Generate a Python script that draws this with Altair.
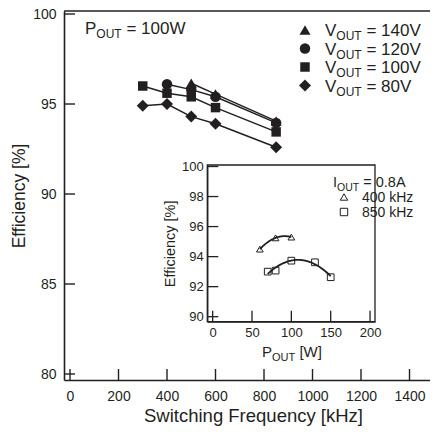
import altair as alt
import pandas as pd

# ---------------- data ----------------
series_names = ["140V", "120V", "100V", "80V"]
series_shapes = ["triangle-up", "circle", "square", "diamond"]
series_sizes = [121, 110, 90, 144]

freq_140 = [500, 600, 850]
eff_140 = [96.15, 95.55, 94.05]
freq_120 = [400, 500, 600, 850]
eff_120 = [96.1, 95.8, 95.4, 93.95]
freq_100 = [300, 400, 500, 600, 850]
eff_100 = [96.0, 95.6, 95.4, 94.8, 93.45]
freq_80 = [300, 400, 500, 600, 850]
eff_80 = [94.9, 95.0, 94.3, 93.9, 92.6]

inset_names = ["400 kHz", "850 kHz"]
inset_shapes = ["triangle-up", "square"]
pout_400 = [60, 80, 100]
eff_400 = [94.5, 95.25, 95.3]
pout_850 = [70, 80, 100, 130, 150]
eff_850 = [93.0, 93.07, 93.73, 93.62, 92.63]

main_xticks = [0, 200, 400, 600, 800, 1000, 1200, 1400]
main_yticks = [80, 85, 90, 95, 100]
inset_xticks = [0, 50, 100, 150, 200]
inset_yticks = [90, 92, 94, 96, 98, 100]

MAIN_X_DOMAIN = [-24.74, 1484.5]
MAIN_Y_DOMAIN = [79.667, 100.167]
INSET_X_DOMAIN = [-6.8, 206.3]
INSET_Y_DOMAIN = [89.667, 100.1]

# ---------------- layout / style ----------------
W, H = 366, 369
INK = "#231f20"
FONT = "Liberation Sans"
INSET_X_RANGE = [143.3, 311.0]
INSET_Y_RANGE = [310.7, 154.0]

ONE = pd.DataFrame({"a": [0]})

GLYPH = {'P': 667, 'V': 667, 'I': 278, 'O': 778, 'U': 722, 'T': 611, ' ': 278,
         '=': 584, '.': 278, 'A': 667, 'W': 944, '[': 278, ']': 278, 'k': 500,
         'H': 722, 'z': 500}


def tw(s, size):
    return sum(GLYPH.get(c, 556) for c in s) * size / 1000.0


def txt(s, x, y, size, align="left", baseline="alphabetic"):
    return alt.Chart(ONE).mark_text(
        text=s, fontSize=size, font=FONT, color=INK, align=align, baseline=baseline
    ).encode(x=alt.value(x), y=alt.value(y))


def subtext(x, base, main, sub, rest, size, subsize, drop, gap=True):
    x1 = x + tw(main, size)
    x2 = x1 + tw(sub, subsize) + (tw(" ", size) if gap else 0)
    return [txt(main, x, base, size), txt(sub, x1, base + drop, subsize),
            txt(rest, x2, base, size)]


# ---------------- main plot ----------------
XS = alt.Scale(domain=MAIN_X_DOMAIN, nice=False, zero=False)
YS = alt.Scale(domain=MAIN_Y_DOMAIN, nice=False, zero=False)
XAX = alt.Axis(values=main_xticks, format="d", ticks=False, grid=False, domain=True,
               domainColor=INK, domainWidth=1.6, labelFont=FONT, labelFontSize=14,
               labelColor=INK, labelPadding=9, labelOverlap=False,
               title="Switching Frequency [kHz]", titleFont=FONT, titleFontSize=18.5,
               titleFontWeight="normal", titleColor=INK, titlePadding=3, titleX=189)
YAX = alt.Axis(values=main_yticks, format="d", ticks=False, grid=False, domain=True,
               domainColor=INK, domainWidth=1.6, labelFont=FONT, labelFontSize=14,
               labelColor=INK, labelPadding=8, labelOverlap=False,
               title="Efficiency [%]", titleFont=FONT, titleFontSize=17.5,
               titleFontWeight="normal", titleColor=INK, titlePadding=4)


def MX(f):
    return alt.X(f, type="quantitative", scale=XS, axis=XAX)


def MY(f):
    return alt.Y(f, type="quantitative", scale=YS, axis=YAX)


series_data = {"140V": (freq_140, eff_140), "120V": (freq_120, eff_120),
               "100V": (freq_100, eff_100), "80V": (freq_80, eff_80)}
rows = []
for name in series_names:
    fr, ef = series_data[name]
    for a, b in zip(fr, ef):
        rows.append({"freq": a, "eff": b, "series": name})
main_df = pd.DataFrame(rows)

main_lines = alt.Chart(main_df).mark_line(color=INK, strokeWidth=1.5).encode(
    x=MX("freq"), y=MY("eff"), detail="series:N")

point_layers = []
for name in ["80V", "100V", "140V", "120V"]:
    i = series_names.index(name)
    point_layers.append(
        alt.Chart(main_df[main_df.series == name]).mark_point(
            filled=True, color=INK, opacity=1, shape=series_shapes[i],
            size=series_sizes[i]).encode(x=MX("freq"), y=MY("eff")))

ytick_layer = alt.Chart(pd.DataFrame({"v": main_yticks})).mark_rule(
    color=INK, strokeWidth=1.4).encode(y=MY("v"), x=alt.value(0), x2=alt.value(11))
xtick_layer = alt.Chart(pd.DataFrame({"v": main_xticks})).mark_rule(
    color=INK, strokeWidth=1.4).encode(x=MX("v"), y=alt.value(H), y2=alt.value(H - 11))
top_border = alt.Chart(ONE).mark_rule(color=INK, strokeWidth=1.6).encode(
    x=alt.value(0), x2=alt.value(W), y=alt.value(0))

main_layers = [xtick_layer, ytick_layer, top_border, main_lines] + point_layers
main_layers += subtext(21, 23, "P", "OUT", "= 100W", 17, 12, 4)

legend_y = [19, 37.5, 56, 74.5]
for name, shp, sz, yy in zip(series_names, series_shapes, series_sizes, legend_y):
    main_layers.append(alt.Chart(ONE).mark_point(
        filled=True, color=INK, opacity=1, shape=shp, size=sz).encode(
        x=alt.value(241), y=alt.value(yy)))
    main_layers += subtext(261, yy + 6.1, "V", "OUT", "= " + name, 17, 12, 4)

main_group = alt.layer(*main_layers)

# ---------------- inset ----------------
IXS = alt.Scale(domain=INSET_X_DOMAIN, range=INSET_X_RANGE, nice=False, zero=False)
IYS = alt.Scale(domain=INSET_Y_DOMAIN, range=INSET_Y_RANGE, nice=False, zero=False)
IXAX = alt.Axis(values=inset_xticks, format="d", orient="bottom",
                offset=-(H - INSET_Y_RANGE[0]),
                ticks=False, grid=False, domain=True, domainColor=INK, domainWidth=1.3,
                labelFont=FONT, labelFontSize=13, labelColor=INK, labelPadding=5,
                labelOverlap=False, title=None, zindex=1)
IYAX = alt.Axis(values=inset_yticks, format="d", orient="left", offset=-INSET_X_RANGE[0],
                ticks=False, grid=False, domain=True, domainColor=INK, domainWidth=1.3,
                labelFont=FONT, labelFontSize=13, labelColor=INK, labelPadding=4,
                labelOverlap=False, title="Efficiency [%]", titleFont=FONT,
                titleFontSize=14.5, titleFontWeight="normal", titleColor=INK,
                titlePadding=4, zindex=1)


def IX(f):
    return alt.X(f, type="quantitative", scale=IXS, axis=IXAX)


def IY(f):
    return alt.Y(f, type="quantitative", scale=IYS, axis=IYAX)


irows = []
for name, pp, ef in [("400 kHz", pout_400, eff_400), ("850 kHz", pout_850, eff_850)]:
    for a, b in zip(pp, ef):
        irows.append({"p": a, "eff": b, "f": name})
inset_df = pd.DataFrame(irows)

frame_df = pd.DataFrame({"x0": [INSET_X_DOMAIN[0]], "x1": [INSET_X_DOMAIN[1]],
                         "y0": [INSET_Y_DOMAIN[0]], "y1": [INSET_Y_DOMAIN[1]]})
inset_frame = alt.Chart(frame_df).mark_rect(fill="white", stroke=INK, strokeWidth=1.3).encode(
    x=IX("x0"), x2="x1", y=IY("y0"), y2="y1")

inset_curves = alt.Chart(inset_df).transform_regression(
    "p", "eff", method="poly", order=2, groupby=["f"]
).mark_line(color=INK, strokeWidth=1.8).encode(x=IX("p"), y=IY("eff"), detail="f:N")

inset_point_layers = []
for name, shp in zip(inset_names, inset_shapes):
    inset_point_layers.append(
        alt.Chart(inset_df[inset_df.f == name]).mark_point(
            filled=False, color=INK, strokeWidth=1, size=45, opacity=1, shape=shp
        ).encode(x=IX("p"), y=IY("eff")))

ixtick = alt.Chart(pd.DataFrame({"v": inset_xticks})).mark_rule(
    color=INK, strokeWidth=1.3).encode(x=IX("v"), y=alt.value(INSET_Y_RANGE[0]),
                                       y2=alt.value(INSET_Y_RANGE[0] - 11))
iytick = alt.Chart(pd.DataFrame({"v": inset_yticks})).mark_rule(
    color=INK, strokeWidth=1.3).encode(y=IY("v"), x=alt.value(INSET_X_RANGE[0]),
                                       x2=alt.value(INSET_X_RANGE[0] + 11))

inset_layers = [inset_frame, ixtick, iytick, inset_curves] + inset_point_layers
inset_layers += subtext(198, 346, "P", "OUT", "[W]", 15, 11, 3.5)
inset_layers += subtext(269, 176.4, "I", "OUT", "= 0.8A", 14.5, 10.5, 3.5)
for name, shp, yy in zip(inset_names, inset_shapes, [186, 201]):
    inset_layers.append(alt.Chart(ONE).mark_point(
        filled=False, color=INK, strokeWidth=1, shape=shp, size=55, opacity=1).encode(
        x=alt.value(280), y=alt.value(yy)))
    inset_layers.append(txt(name, 298, yy + 5, 14))

inset_group = alt.layer(*inset_layers)

chart = alt.layer(main_group, inset_group).resolve_scale(
    x="independent", y="independent"
).properties(
    width=W, height=H,
    autosize=alt.AutoSizeParams(type="none"),
    padding={"left": 56, "top": 3, "right": 0, "bottom": 46},
    background="white",
).configure_view(strokeWidth=0)

chart.save("out.html", embed_options={"renderer": "svg", "actions": False})
